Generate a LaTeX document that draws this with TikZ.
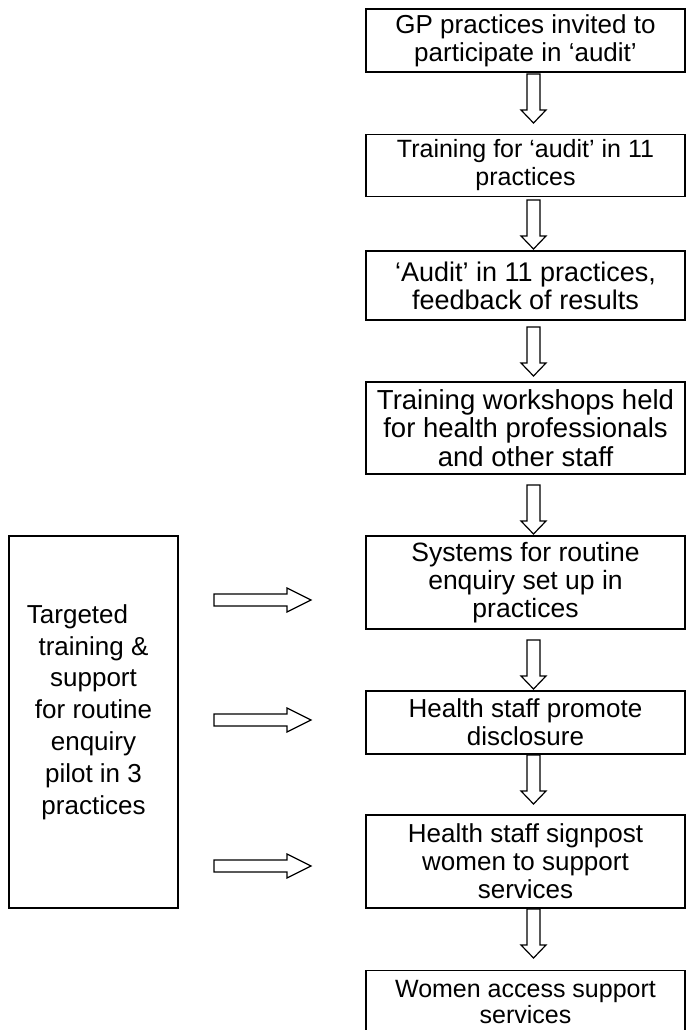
\documentclass[tikz,border=0pt]{standalone}
\usepackage{fontspec}
\setmainfont{Liberation Sans}
\begin{document}
\begin{tikzpicture}[x=1pt,y=1pt,
  box/.style={draw=black, line width=1.2pt, rectangle, inner sep=0pt, align=center,
              minimum width=319pt, text=black},
  lbox/.style={draw=black, line width=1.2pt, rectangle, inner sep=0pt,
              minimum width=169pt, minimum height=372pt},
  ltext/.style={align=center, inner sep=0pt, font=\fontsize{26}{31.8}\selectfont},
  fs/.style={font=\fontsize{#1}{28}\selectfont},
  darr/.pic={\draw[line width=1.2pt, fill=white, line join=miter]
      (-6.5,0) -- (6.5,0) -- (6.5,-36) -- (12.5,-36) -- (0,-49) -- (-12.5,-36) -- (-6.5,-36) -- cycle;},
  rarr/.pic={\draw[line width=1.2pt, fill=white, line join=miter]
      (0,6) -- (73,6) -- (73,12) -- (97,0) -- (73,-12) -- (73,-6) -- (0,-6) -- cycle;}
]
\useasboundingbox (0,0) rectangle (686,-1030);

% right column boxes (x 366..685)
\node[box, fs=26, minimum height=63pt] (b1) at (525.5,-40.5)
  {GP practices invited to\\participate in ‘audit’};
\node[box, fs=25, minimum height=62pt] (b2) at (525.5,-165.5)
  {Training for ‘audit’ in 11\\practices};
\node[box, fs=27, minimum height=69pt] (b3) at (525.5,-285.5)
  {‘Audit’ in 11 practices,\\feedback of results};
\node[box, font=\fontsize{27.5}{28.5}\selectfont, minimum height=92pt] (b4) at (525.5,-428)
  {Training workshops held\\for health professionals\\and other staff};
\node[box, fs=26.5, minimum height=93pt] (b5) at (525.5,-582.5)
  {Systems for routine\\enquiry set up in\\practices};
\node[box, fs=26, minimum height=63pt] (b6) at (525.5,-722.5)
  {Health staff promote\\disclosure};
\node[box, fs=26, minimum height=93pt] (b7) at (525.5,-861.5)
  {Health staff signpost\\women to support\\services};
\node[box, font=\fontsize{25}{26}\selectfont, minimum height=62pt, anchor=north] (b8) at (525.5,-970)
  {Women access support\\services};

% left box
\node[lbox] (L) at (93.5,-722) {};
\node[ltext] (Lt) at (93.5,-712)
  {Targeted\rule{32pt}{0pt}\\training \&\\support\\for routine\\enquiry\\pilot in 3\\practices};

% down arrows
\coordinate (d12) at (533.5,-74);
\coordinate (d23) at (533.5,-200);
\coordinate (d34) at (533.5,-327);
\coordinate (d45) at (533.5,-485);
\coordinate (d56) at (533.5,-640);
\coordinate (d67) at (533.5,-755);
\coordinate (d78) at (533.5,-909);
\foreach \c in {d12,d23,d34,d45,d56,d67,d78} \pic at (\c) {darr};

% right arrows
\coordinate (r5) at (214,-600);
\coordinate (r6) at (214,-720);
\coordinate (r7) at (214,-866);
\foreach \c in {r5,r6,r7} \pic at (\c) {rarr};
\end{tikzpicture}
\end{document}
